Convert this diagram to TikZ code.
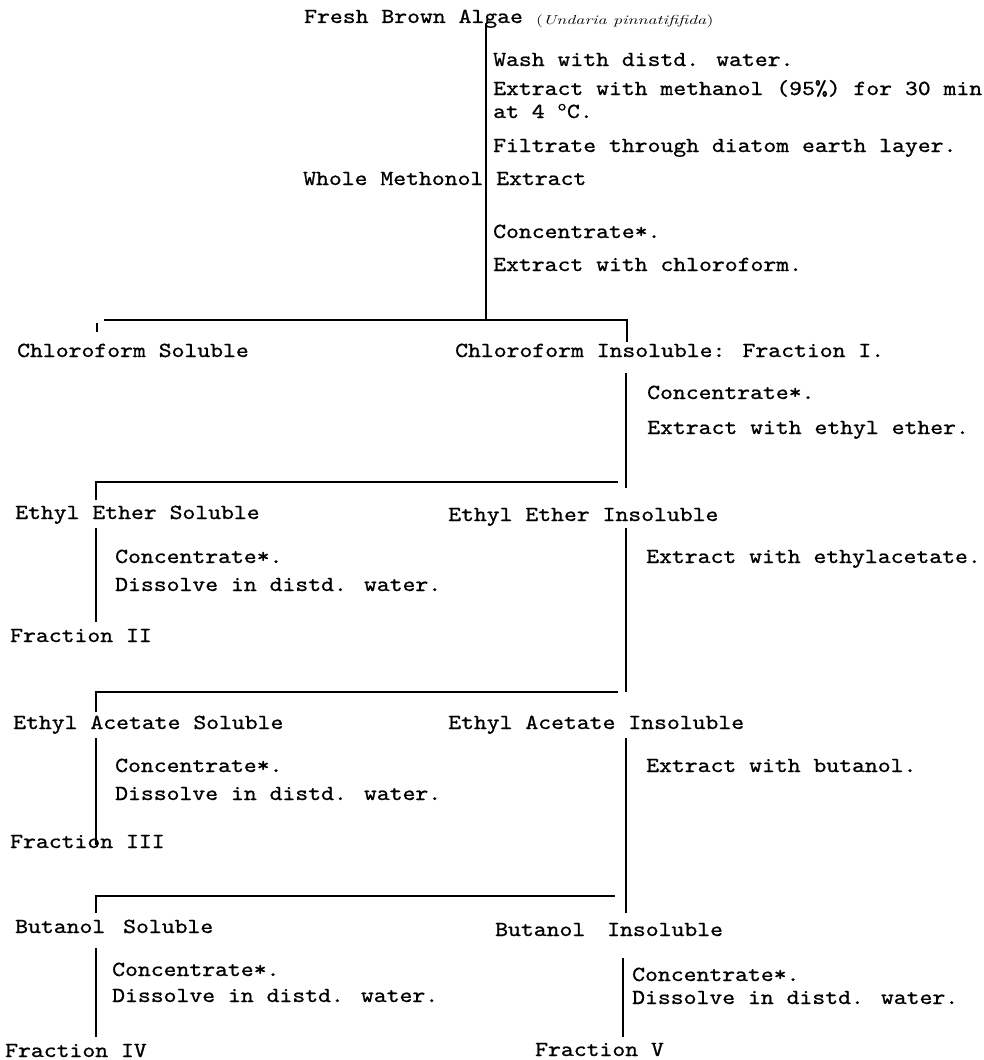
\documentclass[tikz,border=0pt]{standalone}
\usepackage{graphicx}
\usepackage{fontspec}
\newfontfamily\tw{lmmono10-regular.otf}[FakeStretch=1.14,FakeBold=0.8]
\begin{document}
\begin{tikzpicture}[x=1pt,y=1pt,
  txt/.style={anchor=base west,inner sep=0pt,font=\tw\fontsize{21.5}{24}\selectfont},
  ln/.style={line width=1.5pt,line cap=butt}]
\useasboundingbox (0,0) rectangle (983,-1060);
% ---------- top
\node[txt] (title) at (304,-23) {Fresh Brown Algae};
\node[anchor=base west,inner sep=0pt] (species) at (536,-24) {\scalebox{1.4}[1]{\fontsize{13}{15}\selectfont(\textit{Undaria pinnatififida})}};
\node[txt] (wash) at (493,-66) {Wash with distd. water.};
\node[txt] (meth) at (493,-95) {Extract with methanol (95\%) for 30 min};
\node[txt] (temp) at (493,-118) {at 4 \textsuperscript{o}C.};
\node[txt] (filt) at (493,-152) {Filtrate through diatom earth layer.};
\node[txt] (whole) at (303,-185) {Whole Methonol Extract};
\node[txt] (conc1) at (493,-238) {Concentrate*.};
\node[txt] (chl) at (493,-271) {Extract with chloroform.};
\draw[ln] (486,-24) -- (486,-320);
% ---------- chloroform split
\draw[ln] (104,-320) -- (627,-320) -- (627,-342);
\draw[ln] (97,-323) -- (97,-332);
\node[txt] (cs) at (17,-357) {Chloroform Soluble};
\node[txt] (ci) at (455,-357) {Chloroform Insoluble: Fraction I.};
\draw[ln] (626,-373) -- (626,-488);
\node[txt] (conc2) at (647,-399) {Concentrate*.};
\node[txt] (ether) at (647,-434) {Extract with ethyl ether.};
% ---------- ether split
\draw[ln] (96,-500) -- (96,-482) -- (618,-482);
\node[txt] (ees) at (15,-519) {Ethyl Ether Soluble};
\node[txt] (eei) at (448,-521) {Ethyl Ether Insoluble};
\draw[ln] (96,-528) -- (96,-622);
\node[txt] (conc3) at (115,-563) {Concentrate*.};
\node[txt] (diss3) at (115,-591) {Dissolve in distd. water.};
\node[txt] (f2) at (10,-642) {Fraction II};
\draw[ln] (626,-528) -- (626,-692);
\node[txt] (ea) at (646,-563) {Extract with ethylacetate.};
% ---------- ethyl acetate split
\draw[ln] (96,-712) -- (96,-692) -- (618,-692);
\node[txt] (eas) at (13,-729) {Ethyl Acetate Soluble};
\node[txt] (eai) at (448,-729) {Ethyl Acetate Insoluble};
\draw[ln] (96,-738) -- (96,-845);
\node[txt] (conc4) at (115,-772) {Concentrate*.};
\node[txt] (diss4) at (115,-800) {Dissolve in distd. water.};
\node[txt] (f3) at (10,-848) {Fraction III};
\draw[ln] (626,-738) -- (626,-913);
\node[txt] (bu) at (646,-772) {Extract with butanol.};
% ---------- butanol split
\draw[ln] (96,-913) -- (96,-896) -- (615,-896);
\node[txt] (bs1) at (15,-933) {Butanol};
\node[txt] (bs2) at (123,-933) {Soluble};
\node[txt] (bi1) at (495,-936) {Butanol};
\node[txt] (bi2) at (607,-936) {Insoluble};
\draw[ln] (96,-948) -- (96,-1037);
\node[txt] (conc5) at (112,-976) {Concentrate*.};
\node[txt] (diss5) at (112,-1002) {Dissolve in distd. water.};
\node[txt] (f4) at (5,-1057) {Fraction IV};
\draw[ln] (623,-958) -- (623,-1037);
\node[txt] (conc6) at (632,-981) {Concentrate*.};
\node[txt] (diss6) at (632,-1004) {Dissolve in distd. water.};
\node[txt] (f5) at (535,-1056) {Fraction V};
\end{tikzpicture}
\end{document}
